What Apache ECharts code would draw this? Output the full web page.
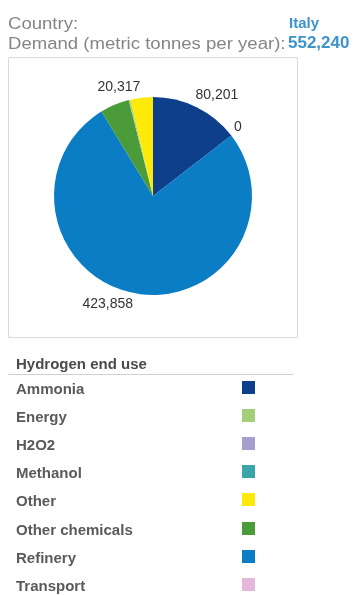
<!DOCTYPE html>
<html>
<head>
<meta charset="utf-8">
<script src="https://cdn.jsdelivr.net/npm/echarts@6/dist/echarts.min.js"></script>
<style>
html,body{margin:0;padding:0;background:#fff;}
#chart{width:355px;height:595px;}
</style>
</head>
<body>
<div id="chart"></div>
<script>
// Header info
const countryName = 'Italy';
const totalDemand = 552240;

// Legend order (as listed in reference)
const legendNames = ['Ammonia', 'Energy', 'H2O2', 'Methanol', 'Other', 'Other chemicals', 'Refinery', 'Transport'];

// Pie slices in drawing order (clockwise from 12 o'clock)
const sliceNames  = ['Ammonia', 'H2O2', 'Refinery', 'Other chemicals', 'Energy', 'Other', 'Methanol', 'Transport'];
const sliceValues = [80201, 0, 423858, 26364, 1500, 20317, 0, 0];
const labelShown  = ['Ammonia', 'H2O2', 'Refinery', 'Other'];

const colorMap = {
  'Ammonia': '#0d3f8a',
  'Energy': '#a2d07a',
  'H2O2': '#a69fcd',
  'Methanol': '#3aa6a8',
  'Other': '#fdea0a',
  'Other chemicals': '#4c9b3b',
  'Refinery': '#0b7dc4',
  'Transport': '#e4b8da'
};

const fmt = v => v.toLocaleString('en-US');
const FONT = '"Liberation Sans", Arial, sans-serif';

// Legend list layout
const LEG_TOP = 387, LEG_STEP = 28.2, LEG_TEXT_X = 16, LEG_SW_X = 242, LEG_SW = 13;
const legendGraphics = [];
legendNames.forEach((n, i) => {
  const cy = LEG_TOP + i * LEG_STEP;
  legendGraphics.push({ type: 'text', x: LEG_TEXT_X, y: cy + 2.5, style: { text: n, font: 'bold 15px ' + FONT, fill: '#5a5a5a', verticalAlign: 'middle' } });
  legendGraphics.push({ type: 'rect', shape: { x: LEG_SW_X, y: Math.round(cy - LEG_SW / 2), width: LEG_SW, height: LEG_SW }, style: { fill: colorMap[n] } });
});

const chart = echarts.init(document.getElementById('chart'), null, {renderer: 'canvas'});

const option = {
  backgroundColor: '#ffffff',
  animation: false,
  graphic: [
    { type: 'text', x: 8, y: 25, scaleX: 1.16, style: { text: 'Country:', font: '16px ' + FONT, fill: '#858585', verticalAlign: 'middle' } },
    { type: 'text', x: 8, y: 45, scaleX: 1.16, style: { text: 'Demand (metric tonnes per year):', font: '16px ' + FONT, fill: '#858585', verticalAlign: 'middle' } },
    { type: 'text', x: 289, y: 23.5, style: { text: countryName, font: 'bold 15px ' + FONT, fill: '#3d93cb', verticalAlign: 'middle' } },
    { type: 'text', x: 288, y: 43.5, style: { text: fmt(totalDemand), font: 'bold 17px ' + FONT, fill: '#3d93cb', verticalAlign: 'middle' } },
    { type: 'rect', shape: { x: 8.5, y: 57.5, width: 289, height: 280 }, style: { fill: 'none', stroke: '#d9d9d9', lineWidth: 1 }, z: -1 },
    { type: 'text', x: 16, y: 364.5, style: { text: 'Hydrogen end use', font: 'bold 15px ' + FONT, fill: '#4a4a4a', verticalAlign: 'middle' } },
    { type: 'line', shape: { x1: 8, y1: 374.5, x2: 293, y2: 374.5 }, style: { stroke: '#d0d0d0', lineWidth: 1 } }
  ].concat(legendGraphics),
  series: [{
    type: 'pie',
    center: [153, 196],
    radius: 99,
    startAngle: 90,
    clockwise: true,
    avoidLabelOverlap: false,
    silent: true,
    label: {
      show: true,
      position: 'outside',
      distanceToLabelLine: 0,
      fontSize: 14,
      fontFamily: FONT,
      color: '#333',
      formatter: p => fmt(p.value)
    },
    labelLine: { show: false, length: 11, length2: 0 },
    labelLayout: p => (p.labelRect.x > 153 ? { dx: -6, dy: -2 } : {}),
    itemStyle: { borderWidth: 0 },
    data: sliceNames.map((n, i) => ({
      name: n,
      value: sliceValues[i],
      itemStyle: { color: colorMap[n] },
      label: { show: labelShown.includes(n) }
    }))
  }]
};
chart.setOption(option);
</script>
</body>
</html>
